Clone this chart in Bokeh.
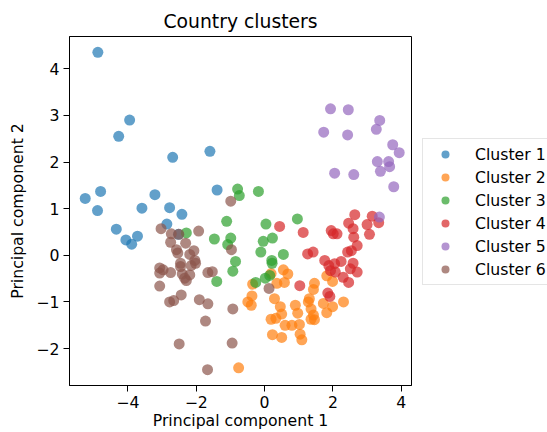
from bokeh.plotting import figure
from bokeh.layouts import row
from bokeh.models import Range1d, FixedTicker, CustomJSTickFormatter, Legend, LegendItem
from bokeh.embed import file_html
from bokeh.resources import INLINE

# ---- data ----
cluster_names = ["Cluster 1", "Cluster 2", "Cluster 3", "Cluster 4", "Cluster 5", "Cluster 6"]
cluster_colors = ["#1f77b4", "#ff7f0e", "#2ca02c", "#d62728", "#9467bd", "#8c564b"]

c1_x = [-4.88, -3.95, -4.27, -2.69, -1.60, -5.25, -4.80, -3.21, -1.39, -4.89,
        -3.59, -2.78, -2.42, -4.34, -4.06, -3.89, -3.72, -2.86, -2.52]
c1_y = [4.35, 2.90, 2.55, 2.10, 2.23, 1.22, 1.37, 1.30, 1.40, 0.96,
        1.01, 1.02, 0.88, 0.56, 0.33, 0.24, 0.41, 0.67, 0.45]

c2_x = [0.55, 0.68, 0.19, -0.35, 0.36, 0.58, -0.37, -0.49, -0.39, 0.29,
        0.46, 0.50, 0.19, 0.33, 0.60, 0.80, 1.02, 0.90, 0.97, 0.23,
        0.50, 1.04, 1.09, 1.46, 1.43, 1.31, 1.28, 1.36, 1.43, 1.46,
        1.36, 1.72, 1.82, 1.99, 2.31, 1.82, 1.99, -0.76]
c2_y = [-0.31, -0.40, -0.39, -0.62, -0.60, -0.58, -0.87, -1.00, -1.07, -0.93,
        -1.10, -1.26, -1.37, -1.35, -1.50, -1.50, -1.48, -1.07, -1.24, -1.70,
        -1.76, -1.69, -1.81, -0.60, -0.73, -0.93, -1.00, -1.15, -1.28, -1.38,
        -1.37, -1.03, -1.23, -1.10, -1.00, -0.44, -0.56, -2.41]

c3_x = [-0.79, -0.74, -0.18, -1.11, 0.04, 0.96, -0.99, -1.08, -2.29, -1.47,
        -0.85, -0.93, -1.40, -0.04, 0.23, -0.11, 0.55, 0.21, 0.22, 0.02,
        -0.26, 0.15]
c3_y = [1.42, 1.28, 1.37, 0.73, 0.67, 0.78, 0.37, 0.23, 0.48, 0.35,
        -0.13, -0.34, -0.56, 0.30, 0.37, 0.07, 0.02, -0.11, -0.17, -0.49,
        -0.58, -0.43]

c4_x = [0.44, 1.13, 2.64, 3.15, 3.34, 2.46, 3.00, 2.59, 1.95, 2.01,
        2.12, 2.61, 3.07, 2.71, 2.54, 2.43, 1.26, 1.42, 1.76, 2.24,
        2.59, 2.51, 2.71, 1.88, 2.05, 1.93, 2.07, 2.30, 2.46, 1.03,
        1.85, 1.91]
c4_y = [0.62, 0.49, 0.87, 0.84, 0.70, 0.69, 0.66, 0.57, 0.53, 0.46,
        0.46, 0.39, 0.45, 0.21, 0.10, 0.07, 0.03, 0.07, -0.11, -0.13,
        -0.17, -0.29, -0.36, -0.22, -0.18, -0.33, -0.36, -0.47, -0.58, -0.65,
        -0.81, -0.88]

c5_x = [1.93, 2.45, 1.73, 2.43, 3.37, 3.27, 3.75, 3.94, 3.30, 3.63,
        3.39, 3.66, 2.05, 2.61, 3.78, 3.36]
c5_y = [3.14, 3.12, 2.64, 2.58, 2.89, 2.70, 2.37, 2.20, 2.01, 2.01,
        1.80, 1.90, 1.76, 1.73, 1.47, 0.82]

c6_x = [-0.99, -3.03, -2.73, -2.51, -1.93, -2.75, -2.31, -2.58, -2.54, -2.07,
        -2.19, -2.04, -2.02, -2.46, -2.46, -2.15, -3.07, -2.97, -3.07, -2.75,
        -2.41, -2.19, -2.29, -2.34, -1.66, -1.53, -0.97, -3.07, -2.44, -2.66,
        -2.78, -1.91, -1.66, -0.93, -1.73, -2.50, -0.95, -1.67, 0.13]
c6_y = [1.16, 0.57, 0.46, 0.45, 0.52, 0.28, 0.26, 0.12, 0.05, 0.10,
        0.02, -0.11, -0.17, -0.17, -0.24, -0.22, -0.27, -0.31, -0.38, -0.37,
        -0.40, -0.42, -0.54, -0.49, -0.37, -0.35, 0.12, -0.66, -0.85, -0.97,
        -1.00, -0.95, -1.04, -1.15, -1.41, -1.90, -1.88, -2.45, -0.71]

x_ticks = [-4, -2, 0, 2, 4]
y_ticks = [-2, -1, 0, 1, 2, 3, 4]

series = [(c1_x, c1_y), (c2_x, c2_y), (c3_x, c3_y), (c4_x, c4_y), (c5_x, c5_y), (c6_x, c6_y)]

FONT = "DejaVu Sans"

# ---- main scatter plot ----
p = figure(width=412, height=432, output_backend="svg", toolbar_location=None,
           x_range=Range1d(-5.71, 4.30), y_range=Range1d(-2.79, 4.69),
           min_border_left=69, min_border_right=1, min_border_top=36, min_border_bottom=47,
           title="Country clusters")

p.title.text_font = FONT
p.title.text_font_size = "18.8px"
p.title.text_font_style = "normal"
p.title.align = "center"
p.title.standoff = 9
p.title.text_color = "black"

p.grid.visible = False
p.outline_line_color = "black"
p.outline_line_width = 1
p.background_fill_color = "white"
p.border_fill_color = "white"

minus_fmt = "return (tick < 0 ? '\u2212' : '') + Math.abs(tick).toString();"
for ax, ticks, lab in ((p.xaxis[0], x_ticks, "Principal component 1"),
                       (p.yaxis[0], y_ticks, "Principal component 2")):
    ax.ticker = FixedTicker(ticks=ticks)
    ax.formatter = CustomJSTickFormatter(code=minus_fmt)
    ax.axis_label = lab
    ax.axis_label_text_font = FONT
    ax.axis_label_text_font_size = "15.7px"
    ax.axis_label_text_font_style = "normal"
    ax.axis_label_text_color = "black"
    ax.major_label_text_font = FONT
    ax.major_label_text_font_size = "15.7px"
    ax.major_label_text_color = "black"
    ax.major_tick_in = 0
    ax.major_tick_out = 6
    ax.minor_tick_in = 0
    ax.minor_tick_out = 0
    ax.major_tick_line_color = "black"
    ax.axis_line_color = "black"
    ax.major_label_standoff = 4
p.xaxis[0].axis_label_standoff = 0
p.yaxis[0].axis_label_standoff = 6

for (xs, ys), col in zip(series, cluster_colors):
    p.scatter(xs, ys, size=11, fill_color=col, fill_alpha=0.7, line_color=None)

# ---- legend panel (outside the axes, on the right) ----
# same cluster data, but the view range is far away so only the legend shows
q = figure(width=135, height=432, output_backend="svg", toolbar_location=None,
           x_range=Range1d(100, 101), y_range=Range1d(100, 101),
           x_axis_type=None, y_axis_type=None,
           min_border_left=0, min_border_right=0, min_border_top=0, min_border_bottom=0)
q.grid.visible = False
q.outline_line_color = None
q.background_fill_color = "white"
q.border_fill_color = "white"

items = []
for (xs, ys), name, col in zip(series, cluster_names, cluster_colors):
    r = q.scatter(xs, ys, size=11, fill_color=col, fill_alpha=0.7, line_color=None)
    items.append(LegendItem(label=name, renderers=[r]))

legend = Legend(items=items, location=(10, 100))
legend.label_text_font = FONT
legend.label_text_font_size = "15.7px"
legend.label_text_color = "black"
legend.padding = 5
legend.spacing = 3
legend.glyph_width = 34
legend.glyph_height = 20
legend.label_height = 20
legend.label_standoff = 13
legend.border_line_color = "#cccccc"
legend.border_line_width = 1
legend.background_fill_alpha = 0.8
legend.margin = 0
q.add_layout(legend, "center")

layout = row(p, q, spacing=0)
open("out.html", "w").write(file_html(layout, INLINE))
